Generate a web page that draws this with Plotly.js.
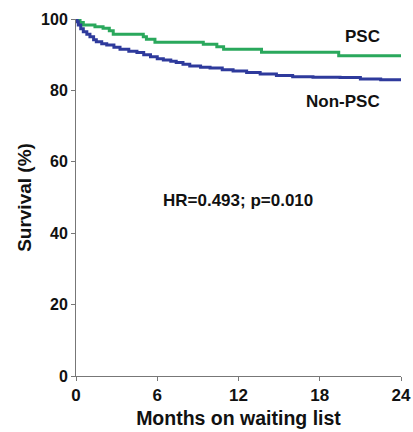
<!DOCTYPE html>
<html><head><meta charset="utf-8">
<script src="https://cdn.plot.ly/plotly-3.0.1.min.js"></script>
<style>html,body{margin:0;padding:0;background:#fff}#c{width:413px;height:432px}</style>
</head><body><div id="c"></div>
<script>
const pscMonths = [0, 0.3, 0.54, 1.4, 2.0, 2.46, 2.75, 4.97, 5.2, 5.83, 9.4, 10.4, 10.9, 13.7, 19.4, 24];
const pscSurv   = [100, 99.0, 98.3, 97.8, 97.4, 96.7, 95.7, 95.0, 94.3, 93.5, 92.9, 92.2, 91.5, 90.7, 89.7, 89.7];
const nonMonths = [0, 0.08, 0.17, 0.35, 0.54, 0.8, 1.03, 1.3, 1.5, 1.9, 2.27, 2.8, 3.25, 3.9, 4.5, 5.0, 5.5, 6.0, 6.45, 7.0, 7.4, 7.9, 8.4, 9.2, 9.9, 10.8, 11.6, 12.6, 13.6, 14.8, 16.0, 17.5, 19.5, 21.0, 22.5, 24];
const nonSurv   = [100, 99.2, 98.3, 97.3, 96.4, 95.7, 95.0, 94.2, 93.6, 93.1, 92.7, 92.1, 91.5, 91.0, 90.6, 90.0, 89.4, 88.9, 88.5, 88.2, 87.8, 87.3, 86.8, 86.5, 86.3, 85.8, 85.4, 85.0, 84.6, 84.2, 83.8, 83.7, 83.6, 83.2, 83.0, 82.9];
const xTicks = [0, 6, 12, 18, 24];
const yTicks = [0, 20, 40, 60, 80, 100];
const labels = {psc: "PSC", non: "Non-PSC", stat: "HR=0.493; p=0.010"};

const data = [
  {x: pscMonths, y: pscSurv, mode: "lines", line: {shape: "hv", color: "#2aa85c", width: 3}, cliponaxis: false, showlegend: false},
  {x: nonMonths, y: nonSurv, mode: "lines", line: {shape: "hv", color: "#2e3a9c", width: 3}, cliponaxis: false, showlegend: false}
];
const FAM = "Liberation Sans, Arial, sans-serif";
const bold = (s) => ({family: FAM, size: s, color: "#111", weight: "bold"});
const layout = {
  width: 413, height: 432,
  margin: {l: 76, r: 12, t: 19, b: 56},
  paper_bgcolor: "#fff", plot_bgcolor: "#fff",
  font: {family: FAM, size: 14, color: "#111"},
  xaxis: {range: [0, 24], tickvals: xTicks, ticktext: xTicks.map(String), showgrid: false, zeroline: false,
    showline: true, linecolor: "#777", linewidth: 1, ticks: "outside", ticklen: 4, tickcolor: "#777",
    tickfont: bold(17),
    title: {text: "Months on waiting list", standoff: 6, font: bold(19.5)}},
  yaxis: {range: [0, 100], tickvals: yTicks, ticktext: yTicks.map(String), showgrid: false, zeroline: false,
    showline: true, linecolor: "#777", linewidth: 1, ticks: "outside", ticklen: 4, tickcolor: "#777",
    tickfont: bold(16),
    title: {text: "Survival (%)", standoff: 4, font: bold(19)}},
  annotations: [
    {x: 21.16, y: 95.0, xref: "x", yref: "y", text: labels.psc, showarrow: false, font: bold(17)},
    {x: 19.7, y: 77.0, xref: "x", yref: "y", text: labels.non, showarrow: false, font: bold(17)},
    {x: 11.96, y: 49.3, xref: "x", yref: "y", text: labels.stat, showarrow: false, font: bold(17)}
  ]
};
Plotly.newPlot("c", data, layout, {displayModeBar: false, staticPlot: true});
</script></body></html>
